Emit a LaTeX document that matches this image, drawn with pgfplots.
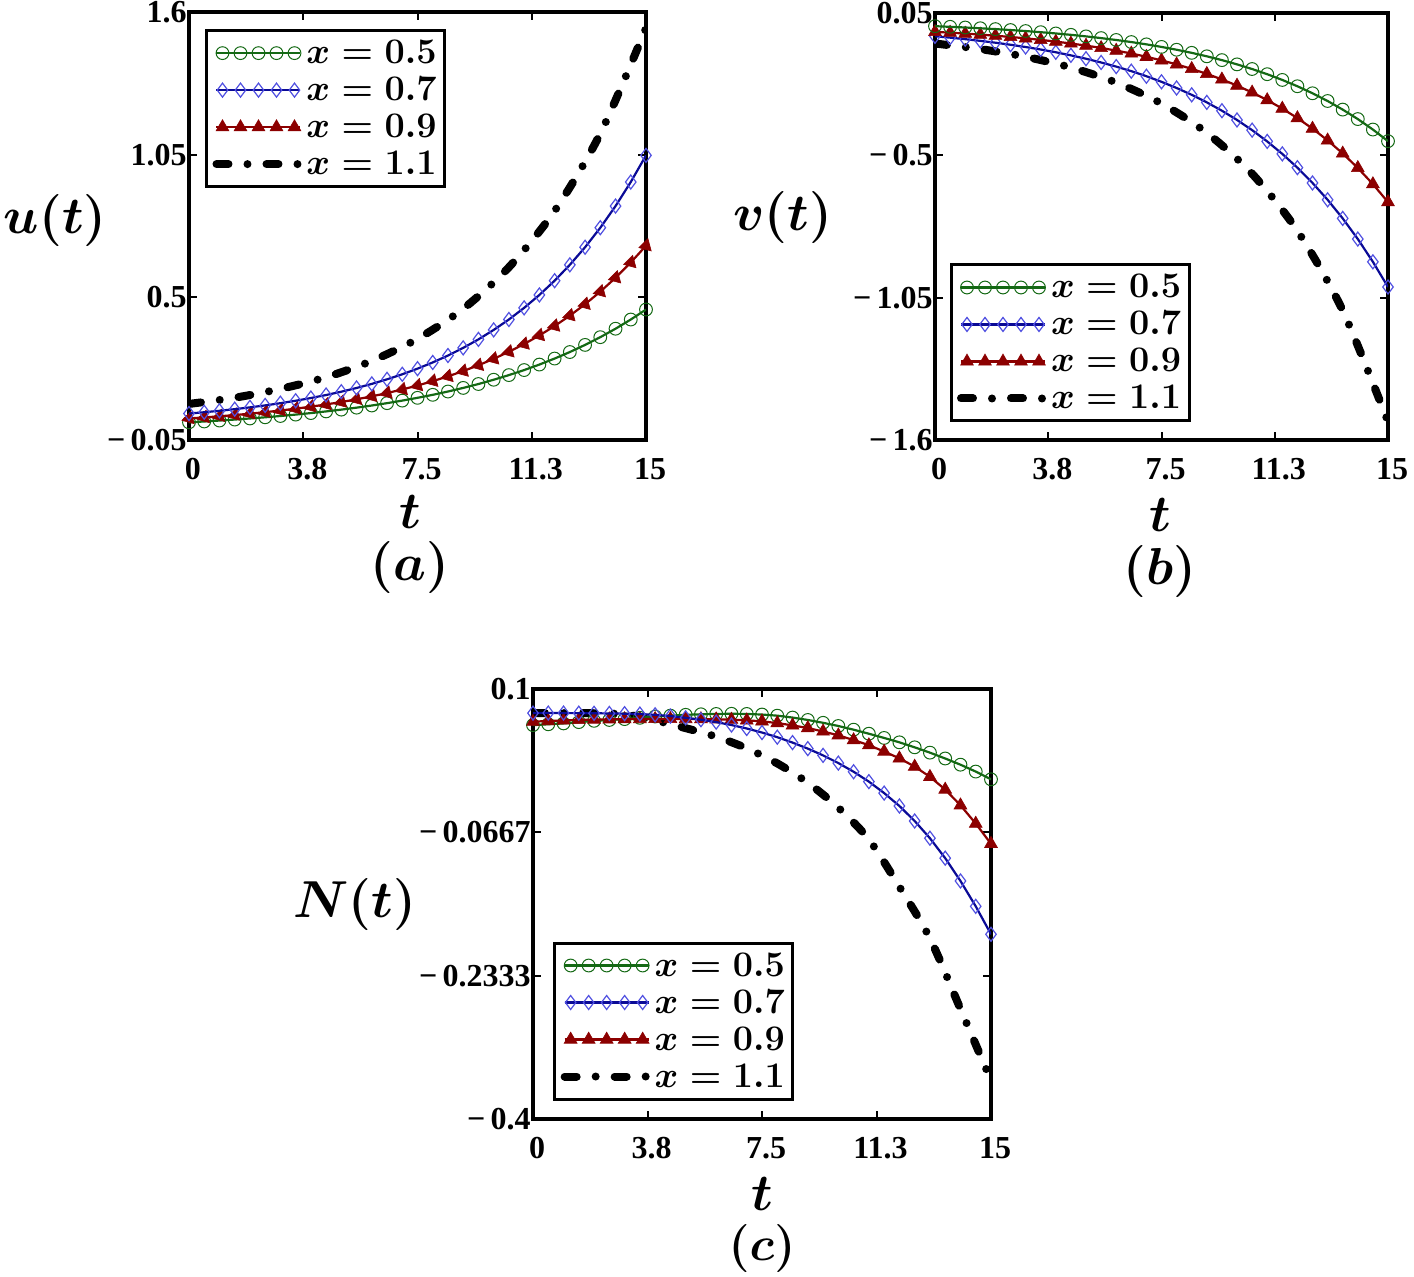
\RequirePackage{fix-cm}
\documentclass[border=0pt]{standalone}
\usepackage{amsmath}
\usepackage{fontspec}
\setmainfont{Liberation Serif}
\usepackage{pgfplots}
\usepackage{pgfplotstable}
\pgfplotsset{compat=1.18}

\definecolor{cg}{RGB}{20,105,20}
\definecolor{cb}{RGB}{10,10,150}
\definecolor{cbm}{RGB}{80,80,225}
\definecolor{cr}{RGB}{140,0,0}

\pgfdeclareplotmark{triA}{%
  \pgfpathmoveto{\pgfpointpolar{195}{\pgfplotmarksize}}%
  \pgfpathlineto{\pgfpointpolar{315}{\pgfplotmarksize}}%
  \pgfpathlineto{\pgfpointpolar{75}{\pgfplotmarksize}}%
  \pgfpathclose\pgfusepathqfillstroke}
\pgfdeclareplotmark{triB}{%
  \pgfpathmoveto{\pgfpointpolar{-30}{\pgfplotmarksize}}%
  \pgfpathlineto{\pgfpointpolar{90}{\pgfplotmarksize}}%
  \pgfpathlineto{\pgfpointpolar{210}{\pgfplotmarksize}}%
  \pgfpathclose\pgfusepathqfillstroke}

\pgfplotstableread{
t g b r
0 0.0182 0.0520 0.0331
0.5 0.0214 0.0570 0.0371
1 0.0250 0.0626 0.0414
1.5 0.0288 0.0689 0.0462
2 0.0330 0.0758 0.0515
2.5 0.0375 0.0834 0.0573
3 0.0425 0.0919 0.0637
3.5 0.0479 0.1013 0.0708
4 0.0538 0.1118 0.0785
4.5 0.0602 0.1234 0.0871
5 0.0671 0.1362 0.0965
5.5 0.0747 0.1505 0.1069
6 0.0830 0.1663 0.1183
6.5 0.0920 0.1839 0.1309
7 0.1019 0.2034 0.1448
7.5 0.1126 0.2250 0.1600
8 0.1242 0.2490 0.1768
8.5 0.1369 0.2756 0.1953
9 0.1508 0.3052 0.2157
9.5 0.1658 0.3379 0.2381
10 0.1823 0.3743 0.2629
10.5 0.2002 0.4146 0.2901
11 0.2196 0.4594 0.3200
11.5 0.2408 0.5091 0.3530
12 0.2640 0.5641 0.3893
12.5 0.2891 0.6253 0.4294
13 0.3166 0.6931 0.4734
13.5 0.3464 0.7683 0.5219
14 0.3790 0.8518 0.5754
14.5 0.4144 0.9445 0.6342
15 0.4530 1.0472 0.6990
}\tabA
\pgfplotstableread{
t k
0 0.089
1.5 0.113
3 0.147
4.5 0.192
6 0.255
7.5 0.340
9 0.456
10.5 0.616
12 0.833
13.5 1.131
15 1.538
}\tabAk
\pgfplotstableread{
t g b r
0 -0.0010 -0.0400 -0.0230
0.5 -0.0034 -0.0453 -0.0261
1 -0.0061 -0.0512 -0.0296
1.5 -0.0090 -0.0577 -0.0335
2 -0.0123 -0.0648 -0.0378
2.5 -0.0159 -0.0727 -0.0426
3 -0.0198 -0.0815 -0.0479
3.5 -0.0242 -0.0911 -0.0539
4 -0.0291 -0.1018 -0.0605
4.5 -0.0344 -0.1137 -0.0678
5 -0.0404 -0.1267 -0.0760
5.5 -0.0470 -0.1412 -0.0851
6 -0.0543 -0.1571 -0.0953
6.5 -0.0623 -0.1748 -0.1065
7 -0.0712 -0.1943 -0.1191
7.5 -0.0811 -0.2159 -0.1331
8 -0.0920 -0.2398 -0.1486
8.5 -0.1040 -0.2662 -0.1660
9 -0.1174 -0.2954 -0.1852
9.5 -0.1321 -0.3276 -0.2067
10 -0.1485 -0.3633 -0.2305
10.5 -0.1665 -0.4027 -0.2571
11 -0.1865 -0.4463 -0.2866
11.5 -0.2087 -0.4945 -0.3195
12 -0.2331 -0.5478 -0.3561
12.5 -0.2602 -0.6067 -0.3969
13 -0.2901 -0.6718 -0.4422
13.5 -0.3233 -0.7438 -0.4927
14 -0.3599 -0.8234 -0.5488
14.5 -0.4004 -0.9115 -0.6113
15 -0.4453 -1.0088 -0.6809
}\tabB
\pgfplotstableread{
t k
0 -0.068
1.5 -0.0894
3 -0.1192
4.5 -0.1608
6 -0.2189
7.5 -0.3000
9 -0.4132
10.5 -0.5712
12 -0.7918
13.5 -1.0997
15 -1.5294
}\tabBk
\pgfplotstableread{
t g b r
0 0.0580 0.0720 0.0620
0.5 0.0590 0.0720 0.0628
1 0.0600 0.0720 0.0635
1.5 0.0615 0.0719 0.0641
2 0.0630 0.0718 0.0645
2.5 0.0640 0.0716 0.0648
3 0.0650 0.0713 0.0650
3.5 0.0665 0.0709 0.0651
4 0.0680 0.0700 0.0652
4.5 0.0690 0.0685 0.0652
5 0.0700 0.0665 0.0651
5.5 0.0706 0.0643 0.0650
6 0.0710 0.0615 0.0648
6.5 0.0712 0.0581 0.0644
7 0.0710 0.0541 0.0636
7.5 0.0703 0.0494 0.0624
8 0.0690 0.0440 0.0604
8.5 0.0668 0.0377 0.0577
9 0.0640 0.0307 0.0546
9.5 0.0607 0.0228 0.0506
10 0.0570 0.0139 0.0462
10.5 0.0527 0.0038 0.0406
11 0.0480 -0.0077 0.0347
11.5 0.0431 -0.0210 0.0273
12 0.0380 -0.0360 0.0194
12.5 0.0322 -0.0535 0.0098
13 0.0260 -0.0735 -0.0021
13.5 0.0192 -0.0967 -0.0169
14 0.0120 -0.1232 -0.0352
14.5 0.0040 -0.1527 -0.0565
15 -0.0050 -0.1852 -0.0800
}\tabC
\pgfplotstableread{
t k
0 0.072
1 0.072
2 0.0718
3 0.0705
4 0.0635
5 0.0545
6 0.0445
7 0.031
8 0.0135
9 -0.009
10 -0.038
11 -0.075
12 -0.130
13 -0.190
14 -0.272
15 -0.355
}\tabCk

\tikzset{lab/.style={font=\fontsize{26}{30}\selectfont, inner sep=0pt}}
\pgfplotsset{
  gstyle/.style={color=cg, line width=1.1pt, mark=o, mark size=3.2pt,
     mark options={line width=0.5pt, solid}},
  bstyle/.style={color=cb, line width=1.1pt, mark=diamond, mark size=3.5pt,
     mark options={draw=cbm, line width=0.6pt, solid}},
  rstyle/.style={color=cr, line width=1.1pt, mark=#1, mark size=3.7pt,
     mark options={fill=cr, draw=cr, line width=0.3pt, solid}},
  rstyle/.default=triangle*,
  kstyle/.style={black, line width=4pt, line cap=round,
     dash pattern=on 6pt off 9.5pt on 0pt off 9.5pt, mark=none},
  myax/.style={
    scale only axis, anchor=south west, clip mode=individual,
    axis line style={line width=2pt},
    tick style={line width=1pt, black},
    major tick length=4pt, tick pos=both,
    xmin=0, xmax=15,
    xtick={0,3.75,7.5,11.25,15},
    xticklabels={0,3.8,7.5,11.3,15},
    ticklabel style={font=\fontsize{16}{19}\selectfont\bfseries},
    xticklabel style={yshift=-5.5pt, xshift=2pt},
    yticklabel style={inner xsep=1pt, inner ysep=0pt},
    legend cell align=left,
    legend style={draw=black, line width=1.5pt, fill=white,
      inner xsep=3pt, inner ysep=2pt,
      font=\fontsize{18}{19}\selectfont,
      nodes={inner sep=1pt, text height=13.5pt, text depth=3pt}},
    legend image code/.code={
      \draw[##1, mark=none] (0pt,0pt) -- (42pt,0pt);
      \draw[##1, only marks] plot coordinates {(3pt,0pt) (12pt,0pt) (21pt,0pt) (30pt,0pt) (39pt,0pt)};
    },
  },
}

\begin{document}
\begin{tikzpicture}
\useasboundingbox (0,0) rectangle (707pt,638pt);

% (a)
\begin{axis}[myax, at={(94.5pt,418pt)}, width=228.5pt, height=214pt,
  ymin=-0.05, ymax=1.6, ytick={-0.05,0.5,1.05,1.6},
  yticklabels={{−\,0.05},0.5,1.05,1.6},
  legend style={at={(0.035,0.960)}, anchor=north west}]
\addlegendimage{gstyle}\addlegendentry{$\boldsymbol{x = 0.5}$}
\addlegendimage{bstyle}\addlegendentry{$\boldsymbol{x = 0.7}$}
\addlegendimage{rstyle}\addlegendentry{$\boldsymbol{x = 0.9}$}
\addlegendimage{kstyle}\addlegendentry{$\boldsymbol{x = 1.1}$}
\addplot[kstyle, smooth, forget plot] table[x=t,y=k] {\tabAk};
\addplot[gstyle, forget plot] table[x=t,y=g] {\tabA};
\addplot[rstyle=triA, forget plot] table[x=t,y=r] {\tabA};
\addplot[bstyle, forget plot] table[x=t,y=b] {\tabA};
\node[lab] at (axis description cs:-0.293,0.514) {$\boldsymbol{u(t)}$};
\node[lab] at (axis description cs:0.484,-0.168) {$\boldsymbol{t}$};
\node[lab] at (axis description cs:0.484,-0.299) {$\boldsymbol{(a)}$};
\end{axis}

% (b)
\begin{axis}[myax, at={(467.5pt,418pt)}, width=226.5pt, height=213.5pt,
  ymin=-1.6, ymax=0.05, ytick={-1.6,-1.05,-0.5,0.05},
  yticklabels={{−\,1.6},{−\,1.05},{−\,0.5},0.05},
  legend style={at={(0.032,0.041)}, anchor=south west}]
\addlegendimage{gstyle}\addlegendentry{$\boldsymbol{x = 0.5}$}
\addlegendimage{bstyle}\addlegendentry{$\boldsymbol{x = 0.7}$}
\addlegendimage{rstyle}\addlegendentry{$\boldsymbol{x = 0.9}$}
\addlegendimage{kstyle}\addlegendentry{$\boldsymbol{x = 1.1}$}
\addplot[kstyle, smooth, forget plot] table[x=t,y=k] {\tabBk};
\addplot[bstyle, forget plot] table[x=t,y=b] {\tabB};
\addplot[rstyle=triB, forget plot] table[x=t,y=r] {\tabB};
\addplot[gstyle, forget plot] table[x=t,y=g] {\tabB};
\node[lab] at (axis description cs:-0.336,0.520) {$\boldsymbol{v(t)}$};
\node[lab] at (axis description cs:0.497,-0.176) {$\boldsymbol{t}$};
\node[lab] at (axis description cs:0.497,-0.309) {$\boldsymbol{(b)}$};
\end{axis}

% (c)
\begin{axis}[myax, at={(266.5pt,78.5pt)}, width=229pt, height=215pt,
  ymin=-0.4, ymax=0.1, ytick={-0.4,-0.2333,-0.0667,0.1},
  yticklabels={{−\,0.4},{−\,0.2333},{−\,0.0667},0.1},
  legend style={at={(0.044,0.043)}, anchor=south west}]
\addlegendimage{gstyle}\addlegendentry{$\boldsymbol{x = 0.5}$}
\addlegendimage{bstyle}\addlegendentry{$\boldsymbol{x = 0.7}$}
\addlegendimage{rstyle}\addlegendentry{$\boldsymbol{x = 0.9}$}
\addlegendimage{kstyle}\addlegendentry{$\boldsymbol{x = 1.1}$}
\addplot[kstyle, smooth, forget plot] table[x=t,y=k] {\tabCk};
\addplot[gstyle, forget plot] table[x=t,y=g] {\tabC};
\addplot[rstyle=triB, forget plot] table[x=t,y=r] {\tabC};
\addplot[bstyle, forget plot] table[x=t,y=b] {\tabC};
\node[lab] at (axis description cs:-0.389,0.498) {$\boldsymbol{N(t)}$};
\node[lab] at (axis description cs:0.5,-0.174) {$\boldsymbol{t}$};
\node[lab, font=\fontsize{24}{28}\selectfont] at (axis description cs:0.5,-0.302) {$\boldsymbol{(c)}$};
\end{axis}
\end{tikzpicture}
\end{document}
